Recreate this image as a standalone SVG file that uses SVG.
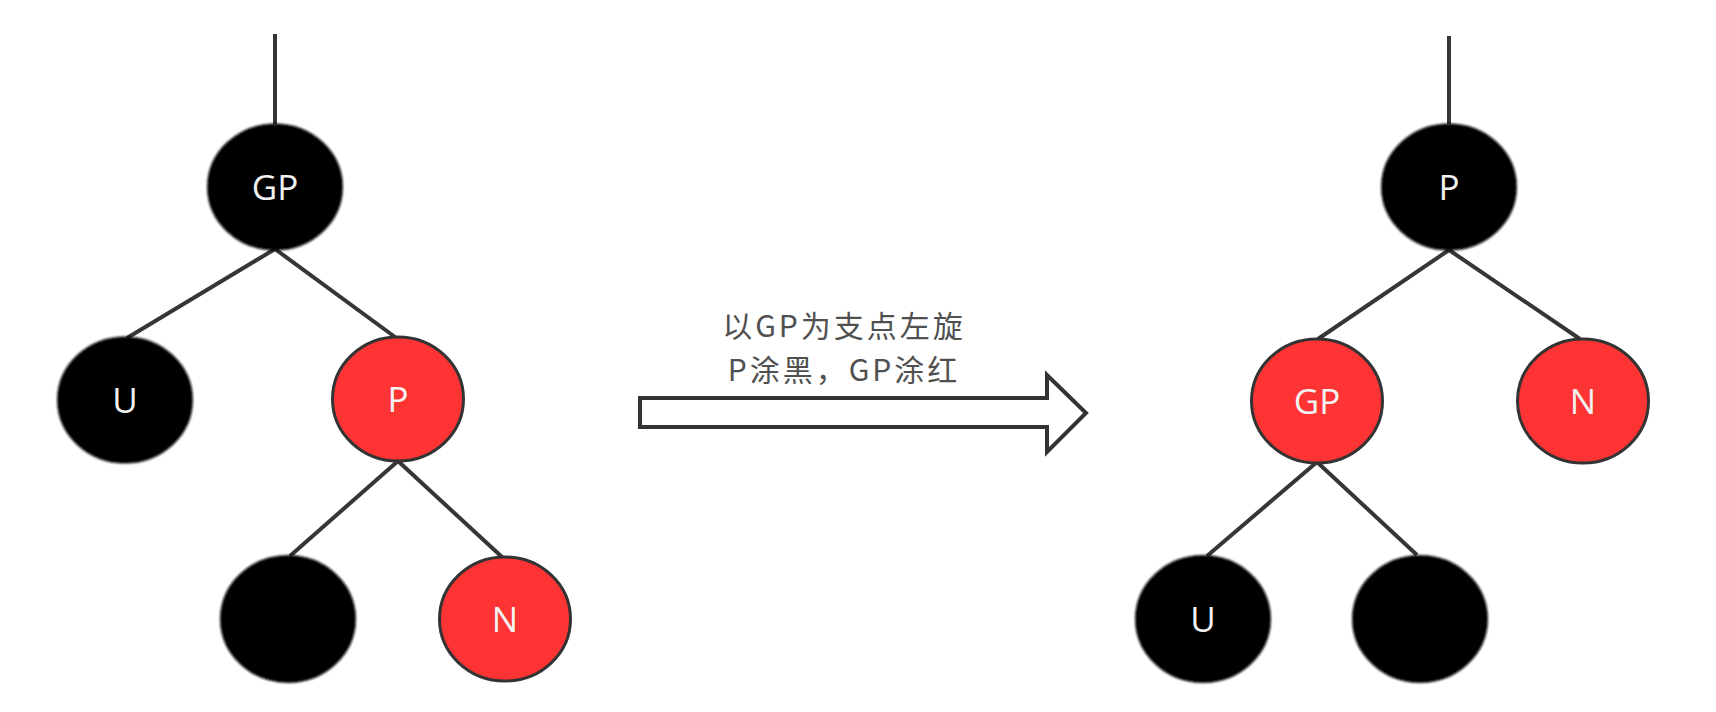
<svg xmlns="http://www.w3.org/2000/svg" width="1716" height="712" viewBox="0 0 1716 712">
<defs>
<filter id="soft" x="-10%" y="-10%" width="120%" height="120%"><feGaussianBlur stdDeviation="1"/></filter>
</defs>
<style>
.edge{stroke:#363636;stroke-width:4;fill:none;stroke-linecap:butt}
.blk{fill:#000;stroke:#0a0a0a;stroke-width:2;filter:url(#soft)}
.red{fill:#fe3333;stroke:#333;stroke-width:3}
.lbl{font-family:"Open Sans","Noto Sans","DejaVu Sans",sans-serif;font-size:35px;fill:#f2f2f2;text-anchor:middle}
.cap{font-family:"Noto Sans CJK SC","Noto Sans",sans-serif;font-size:30px;letter-spacing:3px;fill:#505050;text-anchor:middle}
.arrow{fill:#fff;stroke:#333;stroke-width:4;stroke-linejoin:miter}
</style>
<rect width="1716" height="712" fill="#fff"/>
<g id="connectors">
<line class="edge" x1="275" y1="34" x2="275" y2="124"/>
<line class="edge" x1="275" y1="249" x2="127" y2="338"/>
<line class="edge" x1="275" y1="249" x2="395" y2="337"/>
<line class="edge" x1="398" y1="461" x2="290" y2="556"/>
<line class="edge" x1="398" y1="461" x2="502" y2="557"/>
<line class="edge" x1="1449" y1="36" x2="1449" y2="124"/>
<line class="edge" x1="1449" y1="250" x2="1318" y2="339"/>
<line class="edge" x1="1449" y1="250" x2="1580" y2="339"/>
<line class="edge" x1="1317" y1="462" x2="1207" y2="556"/>
<line class="edge" x1="1317" y1="462" x2="1417" y2="555"/>
</g>
<g id="left-GP"><ellipse class="blk" cx="275" cy="187" rx="67" ry="62.5"/><text class="lbl" x="275" y="200">GP</text></g>
<g id="left-U"><ellipse class="blk" cx="125" cy="400" rx="67" ry="62.5"/><text class="lbl" x="125" y="413">U</text></g>
<g id="left-P"><ellipse class="red" cx="398" cy="399" rx="65.5" ry="62"/><text class="lbl" x="398" y="412">P</text></g>
<g id="left-nil"><ellipse class="blk" cx="288" cy="619" rx="67" ry="63"/></g>
<g id="left-N"><ellipse class="red" cx="505" cy="619" rx="65.5" ry="62"/><text class="lbl" x="505" y="632">N</text></g>
<g id="rotate-arrow">
<polygon class="arrow" points="640,398 1047,398 1047,375 1086,413 1047,452 1047,427 640,427"/>
<text class="cap" x="844" y="337">以GP为支点左旋</text>
<text class="cap" x="844" y="381">P涂黑，GP涂红</text>
</g>
<g id="right-P"><ellipse class="blk" cx="1449" cy="187" rx="67" ry="62.5"/><text class="lbl" x="1449" y="200">P</text></g>
<g id="right-GP"><ellipse class="red" cx="1317" cy="401" rx="65.5" ry="62"/><text class="lbl" x="1317" y="414">GP</text></g>
<g id="right-N"><ellipse class="red" cx="1583" cy="401" rx="65.5" ry="62"/><text class="lbl" x="1583" y="414">N</text></g>
<g id="right-U"><ellipse class="blk" cx="1203" cy="619" rx="67" ry="63"/><text class="lbl" x="1203" y="632">U</text></g>
<g id="right-nil"><ellipse class="blk" cx="1420" cy="619" rx="67" ry="63"/></g>
</svg>
